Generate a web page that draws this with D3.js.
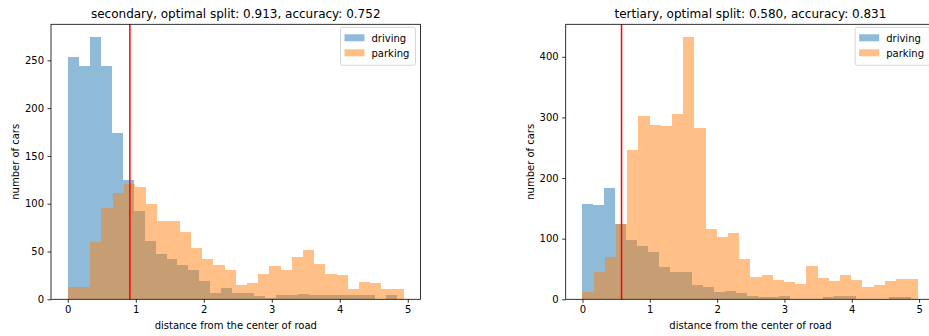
<!DOCTYPE html>
<html>
<head>
<meta charset="utf-8">
<script src="https://cdn.jsdelivr.net/npm/d3@7/dist/d3.min.js"></script>
<style>
  html, body { margin: 0; padding: 0; background: #fff; }
  svg { display: block; font-family: "DejaVu Sans", sans-serif; }
</style>
</head>
<body>
<svg id="chart" width="929" height="336"></svg>
<script>
// Histogram counts per road type (30 equal-width bins each)
const secondaryDriving = [253, 244, 274, 244, 174, 125, 92, 61, 47, 42, 36, 31, 19, 7, 12, 7, 7, 3, 1, 4, 5, 6, 4, 4, 4, 4, 4, 5, 0, 4];
const secondaryParking = [13, 13, 60, 96, 111, 121, 117, 100, 82, 82, 70, 54, 42, 36, 31, 15, 17, 26, 35, 31, 44, 52, 37, 26, 25, 11, 18, 17, 11, 11];
const tertiaryDriving = [157, 155, 183, 125, 98, 88, 78, 54, 45, 45, 24, 20, 12, 14, 10, 6, 4, 4, 6, 1, 0, 0, 4, 6, 6, 1, 1, 1, 4, 4];
const tertiaryParking = [12, 45, 69, 125, 247, 302, 288, 286, 305, 432, 282, 116, 103, 110, 66, 36, 40, 32, 28, 26, 55, 35, 30, 40, 32, 20, 23, 31, 33, 34];

// Range of distances covered by each series' bins
const secondaryDrivingRange = [0, 4.84];
const secondaryParkingRange = [0, 4.94];
const tertiaryDrivingRange = [0, 4.875];
const tertiaryParkingRange = [0, 4.99];

const seriesNames = ["driving", "parking"];
const seriesColors = ["#1f77b4", "#ff7f0e"];

const xTicks = [0, 1, 2, 3, 4, 5];
const secondaryYTicks = [0, 50, 100, 150, 200, 250];
const tertiaryYTicks = [0, 100, 200, 300, 400];

const panels = [
  { title: "secondary, optimal split: 0.913, accuracy: 0.752", split: 0.913,
    series: [[secondaryDriving, secondaryDrivingRange], [secondaryParking, secondaryParkingRange]],
    yTicks: secondaryYTicks, left: 51 },
  { title: "tertiary, optimal split: 0.580, accuracy: 0.831", split: 0.580,
    series: [[tertiaryDriving, tertiaryDrivingRange], [tertiaryParking, tertiaryParkingRange]],
    yTicks: tertiaryYTicks, left: 565.7 }
];

const svg = d3.select("#chart");
const plotW = 369.5, plotTop = 24.3, plotBottom = 299.3;

function toBins(counts, range) {
  const n = counts.length, w = (range[1] - range[0]) / n;
  return counts.map((c, i) => ({ x0: range[0] + i * w, x1: range[0] + (i + 1) * w, count: c }));
}

panels.forEach(p => {
  const binsets = p.series.map(([c, r]) => toBins(c, r));
  const xMin = d3.min(p.series, s => s[1][0]);
  const xMax = d3.max(p.series, s => s[1][1]);
  const xPad = (xMax - xMin) * 0.05;
  const yMax = d3.max(p.series, s => d3.max(s[0])) * 1.05;

  const x = d3.scaleLinear().domain([xMin - xPad, xMax + xPad]).range([p.left, p.left + plotW]);
  const y = d3.scaleLinear().domain([0, yMax]).range([plotBottom, plotTop]);

  const g = svg.append("g");

  // Bars
  binsets.forEach((bins, si) => {
    g.append("g").attr("shape-rendering", "crispEdges")
      .selectAll("rect").data(bins.filter(b => b.count > 0)).join("rect")
      .attr("x", b => x(b.x0))
      .attr("width", b => x(b.x1) - x(b.x0))
      .attr("y", b => y(b.count))
      .attr("height", b => y(0) - y(b.count))
      .attr("fill", seriesColors[si])
      .attr("fill-opacity", 0.5);
  });

  // Optimal split line
  g.append("line")
    .attr("x1", x(p.split)).attr("x2", x(p.split))
    .attr("y1", plotTop).attr("y2", plotBottom)
    .attr("stroke", "red").attr("stroke-width", 1.5);

  // Axes
  const xAxis = d3.axisBottom(x).tickValues(xTicks).tickFormat(d3.format("d")).tickSizeOuter(0).tickSize(3.5).tickPadding(3.5);
  const yAxis = d3.axisLeft(y).tickValues(p.yTicks).tickFormat(d3.format("d")).tickSizeOuter(0).tickSize(3.5).tickPadding(3.5);

  const gx = g.append("g").attr("transform", `translate(0,${plotBottom})`).call(xAxis);
  const gy = g.append("g").attr("transform", `translate(${p.left},0)`).call(yAxis);
  [gx, gy].forEach(a => {
    a.select(".domain").remove();
    a.selectAll("line").attr("stroke", "#000").attr("stroke-width", 0.8);
    a.selectAll("text").attr("font-size", 10).attr("fill", "#000").attr("font-family", "DejaVu Sans");
  });

  // Frame
  g.append("rect")
    .attr("x", p.left).attr("y", plotTop).attr("width", plotW).attr("height", plotBottom - plotTop)
    .attr("fill", "none").attr("stroke", "#000").attr("stroke-width", 0.8);

  // Title and labels
  g.append("text")
    .attr("x", p.left + plotW / 2).attr("y", 18)
    .attr("text-anchor", "middle").attr("font-size", 12).attr("fill", "#000")
    .text(p.title);
  g.append("text")
    .attr("x", p.left + plotW / 2).attr("y", 329)
    .attr("text-anchor", "middle").attr("font-size", 10).attr("fill", "#000")
    .text("distance from the center of road");
  g.append("text")
    .attr("transform", `translate(${p.left - 32},${(plotTop + plotBottom) / 2}) rotate(-90)`)
    .attr("text-anchor", "middle").attr("font-size", 10).attr("fill", "#000")
    .text("number of cars");

  // Legend
  const lx = p.left + plotW - 5 - 75, ly = plotTop + 3;
  const lg = g.append("g").attr("transform", `translate(${lx},${ly})`);
  lg.append("rect").attr("width", 75).attr("height", 38).attr("rx", 2)
    .attr("fill", "#fff").attr("fill-opacity", 0.8)
    .attr("stroke", "#ccc").attr("stroke-width", 0.8);
  seriesNames.forEach((name, i) => {
    lg.append("rect").attr("x", 4).attr("y", 7 + i * 15).attr("width", 20).attr("height", 7)
      .attr("fill", seriesColors[i]).attr("fill-opacity", 0.5);
    lg.append("text").attr("x", 31).attr("y", 14.5 + i * 15)
      .attr("font-size", 10).attr("fill", "#000").text(name);
  });
});
</script>
</body>
</html>
